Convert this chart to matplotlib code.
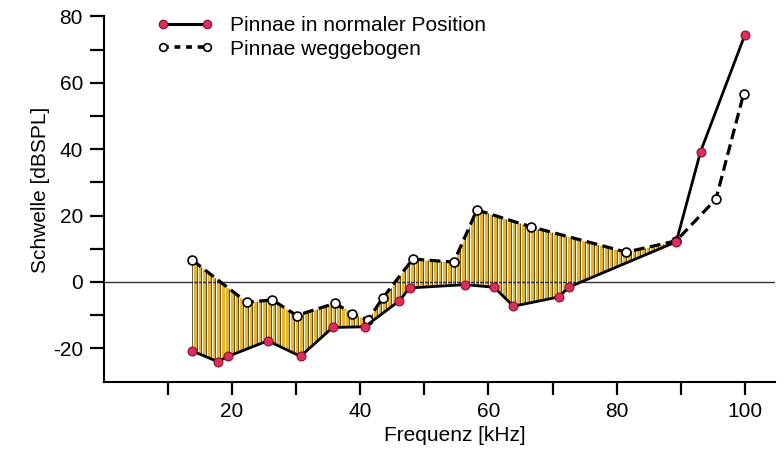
import numpy as np
import matplotlib
matplotlib.use("Agg")
import matplotlib.pyplot as plt
from matplotlib.lines import Line2D

plt.rcParams["font.family"] = ["Liberation Sans", "DejaVu Sans"]
plt.rcParams["axes.unicode_minus"] = False

# Hearing threshold, pinnae in normal position (kHz, dB SPL)
freq_normal = [13.7, 17.8, 19.4, 25.6, 30.7, 35.7, 40.7, 46.1, 47.7, 56.4,
               60.9, 63.9, 71.0, 72.5, 89.3, 93.1, 100.0]
thr_normal = [-20.7, -24.0, -22.4, -17.7, -22.4, -13.7, -13.5, -5.7, -1.8, -0.8,
              -1.6, -7.3, -4.5, -1.6, 12.1, 39.3, 74.4]

# Hearing threshold, pinnae bent away
freq_bent = [13.8, 22.3, 26.3, 30.1, 36.1, 38.7, 41.2, 43.5, 48.2, 54.6,
             58.2, 66.7, 81.5, 89.3, 95.5, 99.8]
thr_bent = [6.6, -6.1, -5.4, -10.1, -6.4, -9.5, -11.4, -4.9, 6.9, 6.0,
            21.7, 16.6, 9.0, 12.4, 25.0, 56.6]

x_major = [20, 40, 60, 80, 100]
x_minor = [10, 30, 50, 70, 90]
y_major = [-20, 0, 20, 40, 60, 80]
y_minor = [-10, 10, 30, 50, 70]

label_normal = "Pinnae in normaler Position"
label_bent = "Pinnae weggebogen"

RED = "#dc2e5c"
RED_EDGE = "#8a1232"
YELLOW = "#e9b42a"
FS = 15

fig = plt.figure(figsize=(7.84, 4.54), dpi=100)
ax = fig.add_axes([0.1323, 0.1595, 0.8562, 0.8044])

ax.set_xlim(0, 104.7)
ax.set_ylim(-30, 80)

# Shaded gap between the two threshold curves (up to where they meet)
xs_n = np.asarray(freq_normal)
ys_n = np.asarray(thr_normal)
xs_b = np.asarray(freq_bent)
ys_b = np.asarray(thr_bent)
x_end = 89.3
grid = np.union1d(xs_n, xs_b)
grid = grid[(grid >= xs_b[0]) & (grid <= x_end)]
lo = np.interp(grid, xs_n, ys_n)
hi = np.interp(grid, xs_b, ys_b)
ax.fill_between(grid, lo, hi, color=YELLOW, lw=0, zorder=1)

# vertical stripe texture inside the gap
stripes = np.arange(xs_b[0], x_end, 0.72)
ax.vlines(stripes, np.interp(stripes, xs_n, ys_n),
          np.interp(stripes, xs_b, ys_b), colors="#222222", lw=0.5, zorder=2)
sw = stripes + 0.15
ax.vlines(sw, np.interp(sw, xs_n, ys_n), np.interp(sw, xs_b, ys_b),
          colors="white", lw=0.7, zorder=2)

# zero line
ax.axhline(0, color="#333333", lw=1.0, zorder=1.5)

ax.plot(freq_bent, thr_bent, color="black", lw=2.3, ls=(0, (3.4, 1.7)),
        marker="o", ms=6.4, mfc="white", mec="black", mew=1.2, zorder=3)
ax.plot(freq_normal, thr_normal, color="black", lw=2.0,
        marker="o", ms=6.4, mfc=RED, mec=RED_EDGE, mew=0.8, zorder=4)

# axes styling
for side in ("top", "right"):
    ax.spines[side].set_visible(False)
for side in ("left", "bottom"):
    ax.spines[side].set_linewidth(1.5)

ax.set_xticks(x_major)
ax.set_xticks(x_minor, minor=True)
ax.set_yticks(y_major)
ax.set_yticks(y_minor, minor=True)
ax.tick_params(axis="both", which="both", direction="out", width=1.6,
               labelsize=FS, color="black")
ax.tick_params(axis="x", which="both", length=9, pad=6)
ax.tick_params(axis="y", which="both", length=10, pad=5)

ax.set_xlabel("Frequenz [kHz]", fontsize=FS)
ax.xaxis.set_label_coords(0.523, -0.122)
ax.set_ylabel("Schwelle [dBSPL]", fontsize=FS)
ax.yaxis.set_label_coords(-0.08, 0.525)

handles = [
    Line2D([], [], color="black", lw=2.2, marker="o", ms=6.2,
           mfc=RED, mec=RED_EDGE, mew=0.8),
    Line2D([], [], color="black", lw=2.6, ls=(0, (1.6, 1.6)), marker="o", ms=5.5,
           mfc="white", mec="black", mew=1.2),
]
ax.legend(handles, [label_normal, label_bent], loc="upper left",
          bbox_to_anchor=(0.0785, 1.0), frameon=False, fontsize=FS,
          numpoints=2, handlelength=2.73, handletextpad=0.8,
          labelspacing=0.2, borderpad=0, borderaxespad=0)

fig.savefig("out.png", dpi=100)
